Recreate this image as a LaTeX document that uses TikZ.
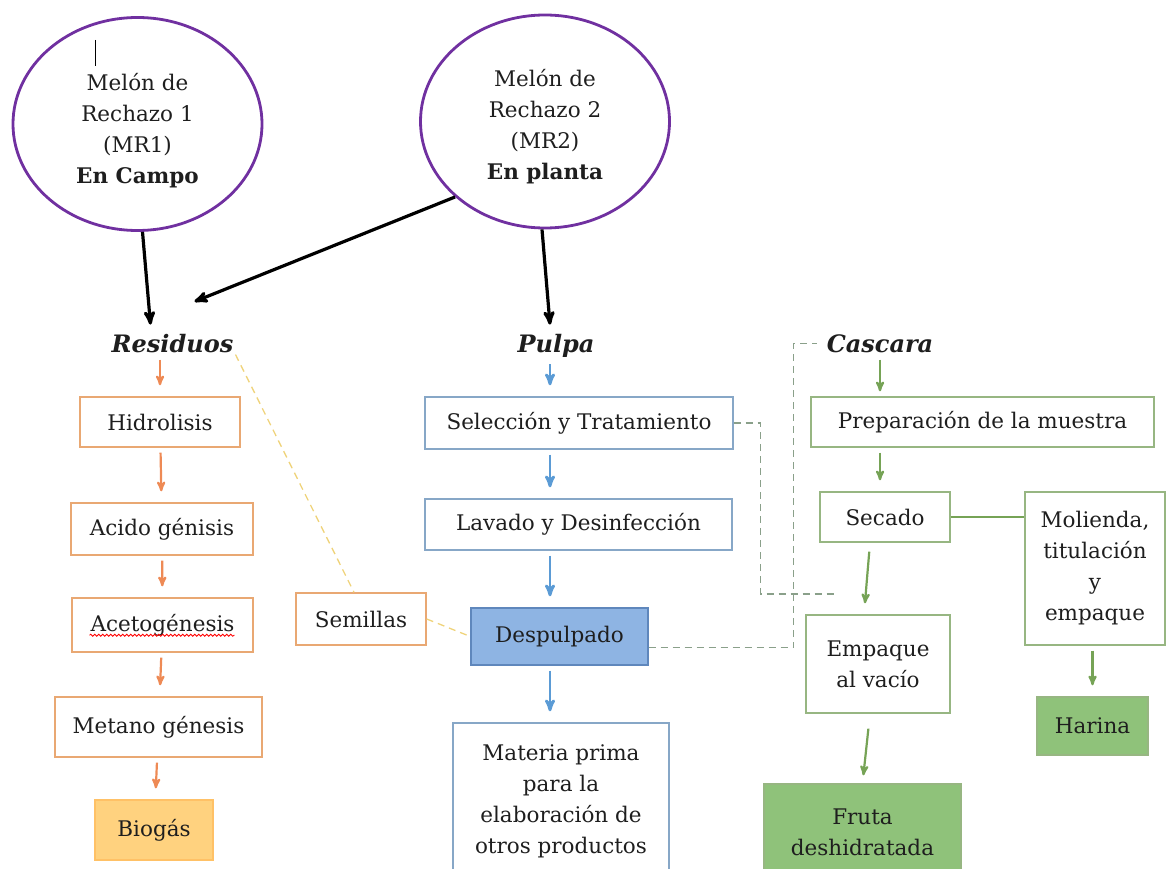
\documentclass[tikz,border=0pt]{standalone}
\usepackage{fontspec}
\setmainfont{DejaVu Serif}
\usepackage{tikz}
\usepackage{xcolor}
\usetikzlibrary{arrows,shapes.geometric,decorations.pathmorphing}

\definecolor{morado}{HTML}{7030A0}
\definecolor{texto}{HTML}{1E1E1E}
\definecolor{bordenaranja}{HTML}{E9A873}
\definecolor{flechanaranja}{HTML}{EE8A55}
\definecolor{rellenobiogas}{HTML}{FFD27F}
\definecolor{bordeazul}{HTML}{87A7C7}
\definecolor{flechaazul}{HTML}{5B9BD5}
\definecolor{rellenoazul}{HTML}{8EB4E3}
\definecolor{bordedespul}{HTML}{5F87BC}
\definecolor{bordeverde}{HTML}{97B682}
\definecolor{flechaverde}{HTML}{76A356}
\definecolor{rellenoverde}{HTML}{8FC27A}
\definecolor{guiagris}{HTML}{8AA08A}
\definecolor{amarillo}{HTML}{EFD37A}

\begin{document}
\begin{tikzpicture}[x=1pt,y=-1pt,>=stealth',
                    font=\fontsize{21.5}{31}\selectfont,text=texto]
  \tikzstyle{melon}=[ellipse,draw=morado,line width=2.8pt,inner sep=0pt,
                     minimum width=249,minimum height=213]
  \tikzstyle{titulo}=[font=\fontsize{24}{28}\selectfont\bfseries\itshape,inner sep=2pt,anchor=base]
  \tikzstyle{caja}=[rectangle,line width=1.4pt,align=center,inner sep=0pt]
  \tikzstyle{naranja}=[caja,draw=bordenaranja]
  \tikzstyle{azul}=[caja,draw=bordeazul]
  \tikzstyle{verde}=[caja,draw=bordeverde]
  \tikzstyle{negra}=[->,line width=3.2pt,draw=black]
  \tikzstyle{paso}=[->,shorten <=5pt,shorten >=11pt,line width=2.2pt]
  \tikzstyle{guia}=[draw=guiagris,line width=1.3pt,dash pattern=on 7pt off 5pt]
  \tikzstyle{semilla}=[draw=amarillo,line width=1.3pt,dash pattern=on 7pt off 5pt]

  \useasboundingbox (0,0) rectangle (1166,869);

  % origen
  \node[melon] (mr1) at (137.5,124) {};
  \node[align=center] (mr1txt) at (137.5,131) {Melón de\\Rechazo 1\\(MR1)\\\textbf{En Campo}};
  \node[melon] (mr2) at (545,121.5) {};
  \node[align=center] (mr2txt) at (545,127) {Melón de\\Rechazo 2\\(MR2)\\\textbf{En planta}};
  \draw[line width=1pt,black] (95,40) -- (95,66);

  \node[titulo] (residuos) at (172.5,352) {Residuos};
  \node[titulo] (pulpa)    at (556,352)   {Pulpa};
  \node[titulo] (cascara)  at (880,352)   {Cascara};

  % residuos
  \node[naranja,minimum width=160,minimum height=50] (hidro)  at (160,422)   {Hidrolisis};
  \node[naranja,minimum width=182,minimum height=52] (acido)  at (162,529)   {Acido génisis};
  \node[naranja,minimum width=181,minimum height=54] (aceto)  at (162.5,625) {Acetogénesis};
  \node[naranja,minimum width=207,minimum height=60] (metano) at (158.5,727) {Metano génesis};
  \node[naranja,fill=rellenobiogas,draw=rellenobiogas!80!orange,
        minimum width=118,minimum height=60] (biogas) at (154,830) {Biogás};
  \node[naranja,minimum width=130,minimum height=52] (semillas) at (361,619) {Semillas};
  \draw[red,line width=0.8pt,decorate,decoration={snake,amplitude=1pt,segment length=4pt}]
    ([shift={(-73pt,-4pt)}]aceto.base) -- ([shift={(72pt,-4pt)}]aceto.base);

  % pulpa
  \node[azul,minimum width=308,minimum height=52] (selec)   at (579,423)   {Selección y Tratamiento};
  \node[azul,minimum width=307,minimum height=51] (lavado)  at (578.5,524.5) {Lavado y Desinfección};
  \node[azul,fill=rellenoazul,draw=bordedespul,
        minimum width=177,minimum height=57] (despul) at (559.5,636.5) {Despulpado};
  \node[azul,minimum width=216,minimum height=157] (materia) at (561,801.5)
        {Materia prima\\para la\\elaboración de\\otros productos};

  % cascara
  \node[verde,minimum width=343,minimum height=50] (prepa)    at (982.5,422) {Preparación de la muestra};
  \node[verde,minimum width=130,minimum height=50] (secado)   at (885,517)   {Secado};
  \node[verde,minimum width=140,minimum height=153] (molienda) at (1095,568.5)
        {Molienda,\\titulación\\y\\empaque};
  \node[verde,fill=rellenoverde,minimum width=111,minimum height=58] (harina) at (1092.5,726) {Harina};
  \node[verde,minimum width=144,minimum height=98] (empaque) at (878,664) {Empaque\\al vacío};
  \node[verde,fill=rellenoverde,minimum width=197,minimum height=96] (fruta) at (862.5,832)
        {Fruta\\deshidratada};

  \path ([xshift=5pt]mr1.south) edge[negra] ([shift={(-22pt,7pt)}]residuos.north)
        (mr2.220) edge[negra] ([shift={(22pt,30pt)}]residuos.north)
        ([xshift=-3pt]mr2.south) edge[negra] ([shift={(-6pt,7pt)}]pulpa.north);

  \path (residuos.south -| hidro) edge[paso,flechanaranja] (hidro)
        (hidro) edge[paso,flechanaranja] (acido)
        (acido) edge[paso,flechanaranja] (aceto)
        (aceto) edge[paso,flechanaranja] (metano)
        (metano) edge[paso,flechanaranja] (biogas);

  \path ([xshift=-6pt]pulpa.south) edge[paso,flechaazul,line width=2.8pt] ([xshift=-6pt]selec.north -| pulpa)
        ([xshift=-6pt]selec.south -| pulpa) edge[paso,flechaazul,line width=2.8pt] ([xshift=-6pt]lavado.north -| pulpa)
        ([xshift=-6pt]lavado.south -| pulpa) edge[paso,flechaazul,line width=2.8pt] ([xshift=-6pt]despul.north -| pulpa)
        ([xshift=-6pt]despul.south -| pulpa) edge[paso,flechaazul,line width=2.8pt] ([xshift=-6pt]materia.north -| pulpa);

  \path (cascara.south) edge[paso,flechaverde,shorten >=5pt] (prepa.north -| cascara)
        (prepa.south -| cascara) edge[paso,flechaverde] (secado.north -| cascara)
        ([xshift=-15pt]secado.south) edge[paso,flechaverde,shorten <=9pt] ([xshift=-14pt]empaque.north)
        ([xshift=-8pt]empaque.south) edge[paso,flechaverde,shorten <=15pt,shorten >=8pt] (fruta.north)
        (molienda.south -| harina) edge[paso,flechaverde] (harina);
  \draw[flechaverde,line width=1.4pt] (secado.east) -- (secado.east -| molienda.west);

  % lineas punteadas
  \coordinate (cruce) at (838,594);
  \draw[guia] (selec.east) -- ++(27,0) |- (cruce);
  \draw[guia] ([yshift=-11pt]despul.east) -- ++(145,0) |- ([xshift=-8pt]cascara.west);
  \draw[semilla] (residuos.south east) -- ([xshift=-7pt]semillas.north);
  \draw[semilla] (semillas.east) -- (despul.west);
\end{tikzpicture}
\end{document}
